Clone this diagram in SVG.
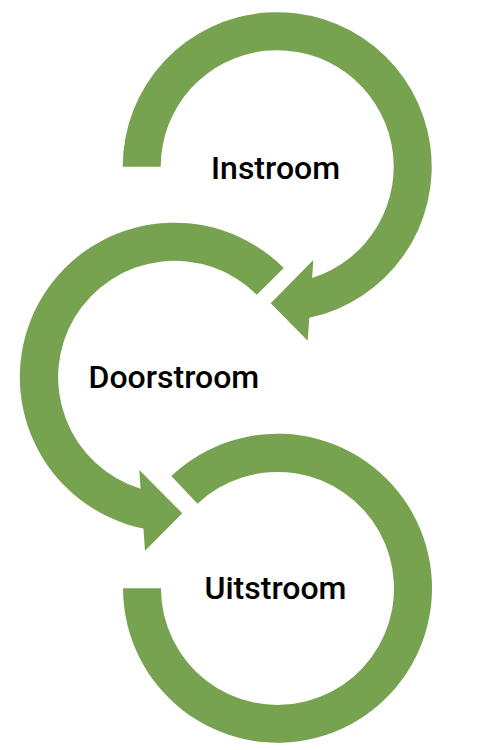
<svg xmlns="http://www.w3.org/2000/svg" width="483" height="750" viewBox="0 0 483 750">
  <style>
    .arc { fill: #77A24F; stroke: none; }
    .label { font-family: Roboto, "Liberation Sans", sans-serif; font-weight: 500; font-size: 32px; fill: #000000; }
  </style>
  <rect x="0" y="0" width="483" height="750" fill="#FFFFFF"/>
  <g id="instroom">
    <path class="arc" d="M 313.3 260 L 312.1 277.9 A 116.5 116.5 0 1 0 160.7 166.7 L 122.7 166.7 A 154.5 154.5 0 1 1 309.3 317.8 L 307.7 340.7 L 270.7 303.3 Z"/>
    <text class="label" x="211" y="179">Instroom</text>
  </g>
  <g id="doorstroom">
    <path class="arc" d="M 283.7 268 A 154.5 154.5 0 1 0 143.4 528.5 L 145 550.7 L 182.3 513.3 L 139.3 470 L 140.6 488.7 A 116.5 116.5 0 1 1 256.9 294.8 Z"/>
    <text class="label" x="88.5" y="388.3">Doorstroom</text>
  </g>
  <g id="uitstroom">
    <path class="arc" d="M 171.3 476 A 154.5 154.5 0 1 1 123 588.3 L 161 588.3 A 116.5 116.5 0 1 0 197.5 503.7 Z"/>
    <text class="label" x="204.5" y="599">Uitstroom</text>
  </g>
</svg>
